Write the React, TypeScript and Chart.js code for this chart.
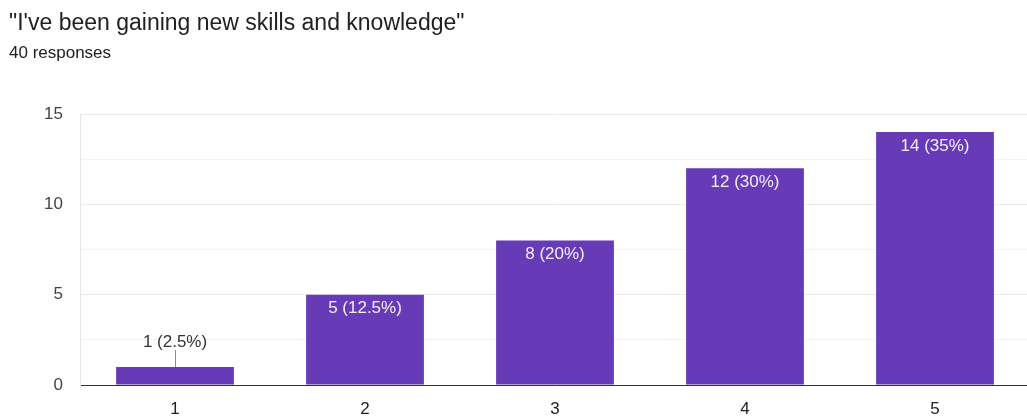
import React, { useEffect, useRef } from "react";
import { Chart, registerables } from "chart.js";

Chart.register(...registerables);

const titleText = "\"I've been gaining new skills and knowledge\"";
const subtitleText = "40 responses";
const categories = ["1", "2", "3", "4", "5"];
const counts = [1, 5, 8, 12, 14];
const percentLabels = ["2.5%", "12.5%", "20%", "30%", "35%"];
const yTicks = [0, 5, 10, 15];

const FONT = "'Liberation Sans', Arial, sans-serif";

const barLabelPlugin = {
  id: "barLabels",
  afterDatasetsDraw(chart: any) {
    const ctx = chart.ctx;
    const meta = chart.getDatasetMeta(0);
    ctx.save();
    ctx.font = `17px ${FONT}`;
    ctx.textAlign = "center";
    ctx.textBaseline = "middle";
    meta.data.forEach((bar: any, i: number) => {
      const text = `${counts[i]} (${percentLabels[i]})`;
      const h = bar.base - bar.y;
      if (h < 32) {
        ctx.strokeStyle = "#8a8a8a";
        ctx.lineWidth = 1;
        ctx.beginPath();
        ctx.moveTo(Math.round(bar.x) + 0.5, bar.y - 17);
        ctx.lineTo(Math.round(bar.x) + 0.5, bar.y);
        ctx.stroke();
        ctx.fillStyle = "#333333";
        ctx.fillText(text, bar.x, bar.y - 25);
      } else {
        ctx.fillStyle = "#f3effa";
        ctx.fillText(text, bar.x, bar.y + 14);
      }
    });
    ctx.restore();
  },
};

export default function App() {
  const ref = useRef<HTMLCanvasElement | null>(null);
  useEffect(() => {
    const prevMargin = document.body.style.margin;
    document.body.style.margin = "0";
    if (!ref.current) return;
    const chart = new Chart(ref.current, {
      type: "bar",
      data: {
        labels: categories,
        datasets: [
          {
            data: counts,
            backgroundColor: "#673ab7",
            borderWidth: 0,
            barPercentage: 0.62,
            categoryPercentage: 1,
          },
        ],
      },
      plugins: [barLabelPlugin],
      options: {
        animation: false,
        responsive: false,
        maintainAspectRatio: false,
        layout: { padding: { left: 9, right: 0, top: 0, bottom: 0 } },
        plugins: {
          legend: { display: false },
          tooltip: { enabled: false },
          title: {
            display: true,
            text: titleText,
            align: "start",
            color: "#202124",
            font: { family: FONT, size: 23, weight: "normal" },
            padding: { top: 10, bottom: 0 },
          },
          subtitle: {
            display: true,
            text: subtitleText,
            align: "start",
            color: "#202124",
            font: { family: FONT, size: 17, weight: "normal" },
            padding: { top: 6, bottom: 50 },
          },
        },
        scales: {
          x: {
            afterFit(scale: any) {
              scale.height = 32;
            },
            grid: { display: false, drawTicks: false },
            border: { display: true, color: "#333333", width: 1 },
            ticks: {
              color: "#222222",
              font: { family: FONT, size: 17 },
              padding: 14,
            },
          },
          y: {
            min: 0,
            max: 15,
            afterFit(scale: any) {
              scale.width = 71;
            },
            afterBuildTicks(scale: any) {
              const t: any[] = [];
              for (let i = 0; i < yTicks.length; i++) {
                t.push({ value: yTicks[i] });
                if (i < yTicks.length - 1) t.push({ value: (yTicks[i] + yTicks[i + 1]) / 2 });
              }
              scale.ticks = t;
            },
            grid: {
              drawTicks: false,
              color: (c: any) => (c.tick && yTicks.includes(c.tick.value) ? "#ebebeb" : "#f3f3f3"),
            },
            border: { display: true, color: "#e6e6e6" },
            ticks: {
              color: "#444444",
              font: { family: FONT, size: 17 },
              padding: 17,
              callback: (v: any) => (yTicks.includes(Number(v)) ? String(v) : ""),
            },
          },
        },
      } as any,
    });
    return () => {
      chart.destroy();
      document.body.style.margin = prevMargin;
    };
  }, []);
  return (
    <div style={{ position: "absolute", left: 0, top: 0, width: 1027, height: 417, overflow: "hidden", background: "#fff" }}>
      <canvas ref={ref} width={1030} height={417} style={{ display: "block", width: 1030, height: 417 }} />
    </div>
  );
}
